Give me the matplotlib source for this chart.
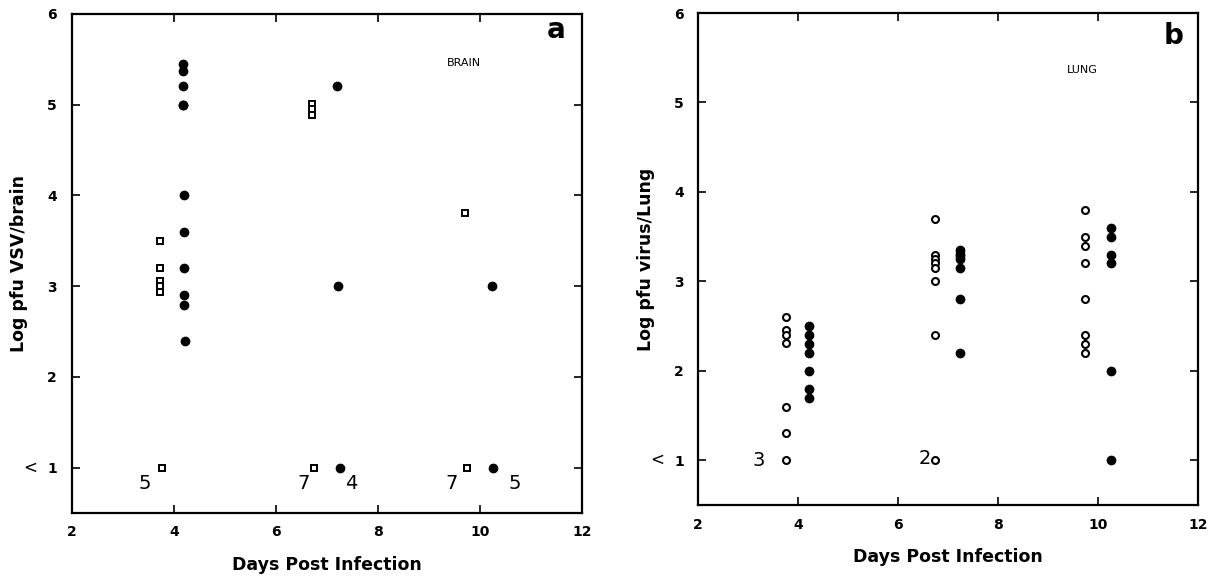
#!/usr/bin/env python3
# -*- coding: utf-8 -*-
"""
VSV titres in brain (a) and lung (b) by day post infection.
Open symbols / filled symbols are the two groups of mice.
"""

import matplotlib
matplotlib.use("Agg")
import matplotlib.pyplot as plt
import matplotlib.transforms as mtransforms


# ---------- panel a : brain ----------
brain_open_x = [3.73, 3.73, 3.73, 3.73, 3.73, 3.77,
                6.70, 6.70, 6.70, 6.75,
                9.70, 9.75]
brain_open_y = [3.50, 3.20, 3.06, 3.00, 2.94, 1.00,
                5.01, 4.95, 4.89, 1.00,
                3.81, 1.00]

brain_fill_x = [4.18, 4.18, 4.18, 4.18, 4.18, 4.20, 4.20, 4.20, 4.20, 4.20, 4.22,
                7.19, 7.22, 7.26,
                10.23, 10.25]
brain_fill_y = [5.45, 5.37, 5.20, 5.00, 5.00, 4.00, 3.60, 3.20, 2.90, 2.79, 2.40,
                5.20, 3.00, 1.00,
                3.00, 1.00]

# number of animals below detection limit
brain_counts = ["5", "7", "4", "7", "5"]
brain_count_x = [3.43, 6.55, 7.47, 9.44, 10.68]
brain_count_y = [0.83, 0.83, 0.83, 0.83, 0.83]

# ---------- panel b : lung ----------
lung_open_x = [3.76] * 7 + [6.75] * 8 + [9.74] * 8
lung_open_y = [2.60, 2.46, 2.40, 2.31, 1.60, 1.30, 1.00,
               3.70, 3.30, 3.25, 3.20, 3.15, 3.00, 2.40, 1.00,
               3.80, 3.50, 3.40, 3.20, 2.80, 2.40, 2.30, 2.20]

lung_fill_x = [4.23] * 7 + [7.25] * 7 + [10.26] * 6
lung_fill_y = [2.50, 2.40, 2.30, 2.20, 2.00, 1.80, 1.70,
               3.35, 3.31, 3.28, 3.25, 3.15, 2.80, 2.20,
               3.60, 3.50, 3.30, 3.20, 2.00, 1.00]

lung_counts = ["3", "2"]
lung_count_x = [3.22, 6.54]
lung_count_y = [1.00, 1.02]

x_ticks = [2, 4, 6, 8, 10, 12]
y_ticks = [1, 2, 3, 4, 5, 6]


def style_axes(ax, ylabel, lbl_pad):
    ax.set_xlim(2, 12)
    ax.set_ylim(0.5, 6)
    ax.set_xticks(x_ticks)
    ax.set_yticks(y_ticks)
    ax.tick_params(direction="in", length=6, width=1.2,
                   top=True, right=True, labelsize=10)
    ax.tick_params(axis="y", pad=lbl_pad)
    ax.tick_params(axis="x", pad=9)
    for lab in ax.get_xticklabels() + ax.get_yticklabels():
        lab.set_fontweight("bold")
    for sp in ax.spines.values():
        sp.set_linewidth(1.6)
    ax.set_ylabel(ylabel, fontsize=12.5, fontweight="bold", labelpad=14)
    ax.set_xlabel("Days Post Infection", fontsize=12.5, fontweight="bold",
                  labelpad=12)
    # "<" in front of the detection limit tick
    trans = mtransforms.blended_transform_factory(ax.transAxes, ax.transData)
    ax.text(-0.082, 1.0, "<", transform=trans, ha="center", va="center",
            fontsize=12, clip_on=False)


fig = plt.figure(figsize=(12.12, 5.79), dpi=100)

ax_a = fig.add_axes([0.0594, 0.114, 0.4208, 0.862])
ax_a.plot(brain_open_x, brain_open_y, linestyle="none", marker="s",
          markersize=5, markerfacecolor="white", markeredgecolor="black",
          markeredgewidth=1.4)
ax_a.plot(brain_fill_x, brain_fill_y, linestyle="none", marker="o",
          markersize=6, color="black")
for t, x, y in zip(brain_counts, brain_count_x, brain_count_y):
    ax_a.text(x, y, t, fontsize=14, ha="center", va="center")
ax_a.text(11.5, 5.82, "a", fontsize=20, fontweight="bold", ha="center", va="center")
ax_a.text(9.69, 5.46, "BRAIN", fontsize=8, ha="center", va="center")
style_axes(ax_a, "Log pfu VSV/brain", 11)

ax_b = fig.add_axes([0.5759, 0.1278, 0.4125, 0.8497])
ax_b.plot(lung_open_x, lung_open_y, linestyle="none", marker="o",
          markersize=5, markerfacecolor="white", markeredgecolor="black",
          markeredgewidth=1.5)
ax_b.plot(lung_fill_x, lung_fill_y, linestyle="none", marker="o",
          markersize=6, color="black")
for t, x, y in zip(lung_counts, lung_count_x, lung_count_y):
    ax_b.text(x, y, t, fontsize=14, ha="center", va="center")
ax_b.text(11.52, 5.74, "b", fontsize=20, fontweight="bold", ha="center", va="center")
ax_b.text(9.68, 5.36, "LUNG", fontsize=8, ha="center", va="center")
style_axes(ax_b, "Log pfu virus/Lung", 10)

fig.savefig("out.png", dpi=100)
